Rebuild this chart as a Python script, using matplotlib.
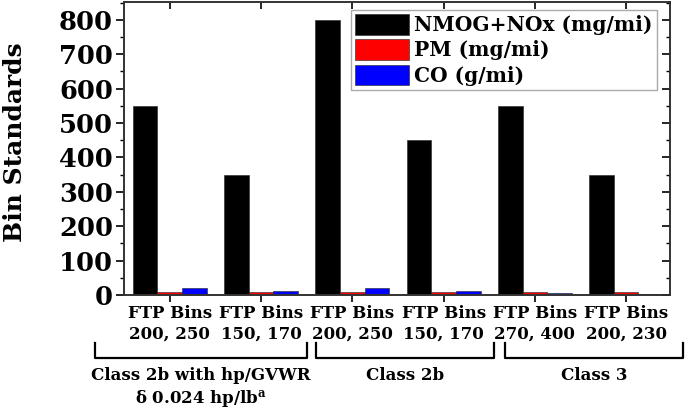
import numpy as np
import matplotlib
matplotlib.use('Agg')
import matplotlib.pyplot as plt
from matplotlib.ticker import MultipleLocator
import matplotlib.transforms as mtransforms

plt.rcParams['font.family'] = 'DejaVu Serif'
plt.rcParams['font.weight'] = 'bold'
plt.rcParams['mathtext.fontset'] = 'dejavuserif'

### chart data
bins = ['FTP Bins\n200, 250', 'FTP Bins\n150, 170', 'FTP Bins\n200, 250',
        'FTP Bins\n150, 170', 'FTP Bins\n270, 400', 'FTP Bins\n200, 230']
nmog_nox = [550, 350, 800, 450, 550, 350]   # mg/mi
pm = [9, 9, 9, 9, 9, 9]                      # mg/mi
co = [21, 13, 21, 13, 5, 4]                  # g/mi
series_names = ['NMOG+NOx (mg/mi)', 'PM (mg/mi)', 'CO (g/mi)']
series_colors = ['#000000', '#ff0000', '#0000ff']
groups = ['Class 2b with hp/GVWR\n\u03b4 0.024 hp/lb$^\\mathbf{a}$', 'Class 2b', 'Class 3']
group_spans = [(0.18, 2.50), (2.60, 4.55), (4.67, 6.62)]  # bracket extents in x data units

fig = plt.figure(figsize=(6.85, 4.12), dpi=100)
ax = fig.add_axes([124/685, (412-295)/412, (670-124)/685, (295-2)/412])

x = np.arange(1, len(bins)+1)
w = 0.27
for k, vals in enumerate([nmog_nox, pm, co]):
    ax.bar(x + (k-1)*w, vals, w, color=series_colors[k], edgecolor='#222222',
           linewidth=0.4, label=series_names[k])

ax.set_xlim(0.5, 6.48)
ax.set_ylim(0, 852)
ax.yaxis.set_major_locator(MultipleLocator(100))
ax.yaxis.set_minor_locator(MultipleLocator(50))
ax.set_xticks(x)
ax.set_xticklabels(bins, fontsize=12, fontweight='bold', linespacing=1.3)
ax.tick_params(axis='y', labelsize=18.5, direction='out', length=6, width=1.2, pad=2)
ax.tick_params(axis='y', which='minor', direction='out', length=3, width=1)
ax.tick_params(axis='x', direction='out', length=5, width=1.2, pad=2)
for lab in ax.get_yticklabels():
    lab.set_fontweight('bold')

### inward ticks on top and right sides
ax2 = ax.twinx()
ax2.set_ylim(ax.get_ylim())
ax2.yaxis.set_major_locator(MultipleLocator(100))
ax2.yaxis.set_minor_locator(MultipleLocator(50))
ax2.tick_params(axis='y', which='major', direction='in', length=6, width=1.2, labelright=False)
ax2.tick_params(axis='y', which='minor', direction='in', length=3, width=1)
ax.xaxis.set_ticks_position('both')
ax.tick_params(axis='x', which='major', top=True, labeltop=False)
for t in ax.xaxis.get_major_ticks():
    t.tick2line.set_marker(3)  # tick pointing down from top spine
    t.tick2line.set_markersize(5)

for sp in list(ax.spines.values()) + list(ax2.spines.values()):
    sp.set_linewidth(1.2)
    sp.set_color('#333333')

ax.set_ylabel('Bin Standards', fontsize=18, fontweight='bold')
ax.yaxis.set_label_coords(-0.178, 0.522)

leg = ax.legend(loc='upper right', bbox_to_anchor=(0.976, 0.972), fontsize=14.5,
                handlelength=2.7, handleheight=1.2, labelspacing=0.2,
                handletextpad=0.25, borderpad=0.2, borderaxespad=0,
                fancybox=False, framealpha=1, edgecolor='#aaaaaa')
leg.get_frame().set_linewidth(1)
for t in leg.get_texts():
    t.set_fontweight('bold')

### group brackets under the tick labels
trans = mtransforms.blended_transform_factory(ax.transData, ax.transAxes)
y_top, y_bot = -0.164, -0.215
for (x0, x1), name in zip(group_spans, groups):
    ax.plot([x0, x0, x1, x1], [y_top, y_bot, y_bot, y_top], color='black',
            lw=1.6, transform=trans, clip_on=False)
    ax.text((x0 + x1)/2, -0.245, name, transform=trans, ha='center', va='top',
            fontsize=12, fontweight='bold', linespacing=1.3)

fig.savefig('out.png', dpi=100)
